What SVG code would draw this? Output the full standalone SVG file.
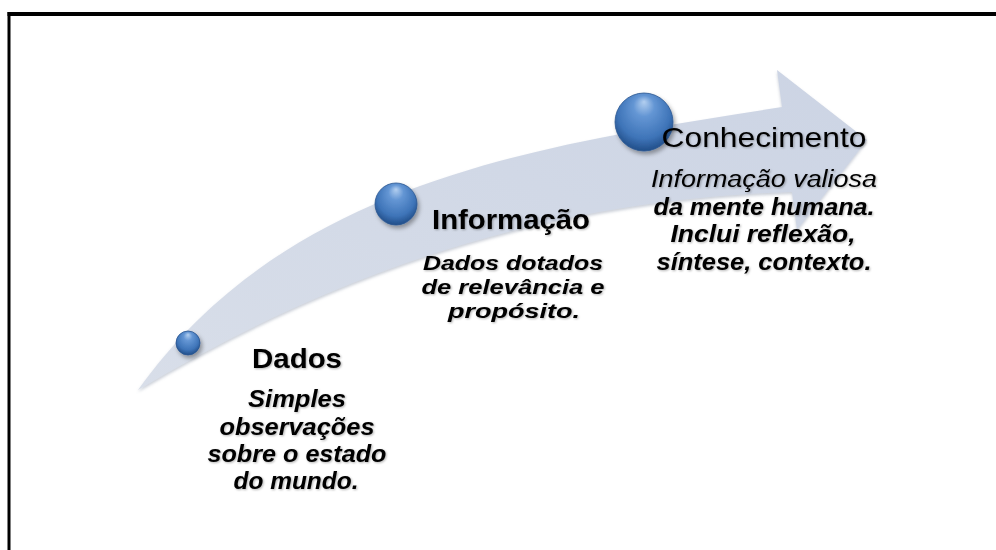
<svg xmlns="http://www.w3.org/2000/svg" width="996" height="550" viewBox="0 0 996 550">
  <defs>
    <linearGradient id="arrowFill" x1="0" y1="1" x2="1" y2="0">
      <stop offset="0" stop-color="#d8dee9"/>
      <stop offset="1" stop-color="#ccd4e4"/>
    </linearGradient>
    <radialGradient id="ball" cx="50%" cy="40%" r="60%" fx="50%" fy="15%">
      <stop offset="0" stop-color="#b3cff0"/>
      <stop offset="0.3" stop-color="#6496d4"/>
      <stop offset="0.75" stop-color="#3e74b8"/>
      <stop offset="1" stop-color="#214e89"/>
    </radialGradient>
    <filter id="ballShadow" x="-30%" y="-30%" width="170%" height="170%">
      <feDropShadow dx="2" dy="3" stdDeviation="2" flood-color="#000" flood-opacity="0.35"/>
    </filter>
    <filter id="txtShadow" x="-5%" y="-20%" width="110%" height="150%">
      <feDropShadow dx="1" dy="1" stdDeviation="0.8" flood-color="#000" flood-opacity="0.3"/>
    </filter>
    <filter id="arrowShadow" x="-5%" y="-5%" width="110%" height="115%">
      <feDropShadow dx="0" dy="2" stdDeviation="1.5" flood-color="#8a94a8" flood-opacity="0.45"/>
    </filter>
  </defs>
  <style>
    .title { font-family: "Liberation Sans", Arial, sans-serif; font-size: 28px; font-weight: bold; fill: #000; text-anchor: middle; }
    .titleR { font-family: "Liberation Sans", Arial, sans-serif; font-size: 28px; font-weight: normal; fill: #000; text-anchor: middle; }
    .body { font-family: "Liberation Sans", Arial, sans-serif; font-size: 23px; font-weight: bold; font-style: italic; fill: #000; text-anchor: middle; }
    .bodyS { font-family: "Liberation Sans", Arial, sans-serif; font-size: 21px; font-weight: bold; font-style: italic; fill: #000; text-anchor: middle; }
    .bodyR { font-family: "Liberation Sans", Arial, sans-serif; font-size: 23px; font-weight: normal; font-style: italic; fill: #000; text-anchor: middle; }
    .sphere { fill: url(#ball); stroke: #2a5590; stroke-width: 0.8; filter: url(#ballShadow); }
    .frame { stroke: #000; fill: none; }
  </style>

  <rect x="0" y="0" width="996" height="550" fill="#ffffff"/>

  <g id="frame">
    <line class="frame" x1="7.5" y1="14" x2="996" y2="14" stroke-width="4"/>
    <line class="frame" x1="9" y1="12" x2="9" y2="550" stroke-width="3"/>
  </g>

  <g id="connectors">
    <path id="arrow" d="M138,390 C288,180 540,145 782,107 L777,70 L867,140 L797,230 L792,192 C540,200 330,275 138,390 Z" fill="url(#arrowFill)" filter="url(#arrowShadow)"/>
  </g>

  <g id="node-dados">
    <circle class="sphere" cx="188" cy="343" r="12"/>
    <g filter="url(#txtShadow)">
      <text class="title" x="297" y="368" textLength="90" lengthAdjust="spacingAndGlyphs">Dados</text>
      <text class="body" x="297" y="407" textLength="98" lengthAdjust="spacingAndGlyphs">Simples</text>
      <text class="body" x="297" y="435" textLength="155" lengthAdjust="spacingAndGlyphs">observações</text>
      <text class="body" x="297" y="462" textLength="179" lengthAdjust="spacingAndGlyphs">sobre o estado</text>
      <text class="body" x="296" y="489" textLength="125" lengthAdjust="spacingAndGlyphs">do mundo.</text>
    </g>
  </g>

  <g id="node-informacao">
    <circle class="sphere" cx="396" cy="204" r="21"/>
    <g filter="url(#txtShadow)">
      <text class="title" x="511" y="229" textLength="158" lengthAdjust="spacingAndGlyphs">Informação</text>
      <text class="bodyS" x="513" y="270" textLength="180" lengthAdjust="spacingAndGlyphs">Dados dotados</text>
      <text class="bodyS" x="513" y="294" textLength="183" lengthAdjust="spacingAndGlyphs">de relevância e</text>
      <text class="bodyS" x="514" y="318" textLength="132" lengthAdjust="spacingAndGlyphs">propósito.</text>
    </g>
  </g>

  <g id="node-conhecimento">
    <circle class="sphere" cx="644" cy="122" r="29"/>
    <g filter="url(#txtShadow)">
      <text class="titleR" x="764" y="147" textLength="205" lengthAdjust="spacingAndGlyphs">Conhecimento</text>
      <text class="bodyR" x="764" y="187" textLength="226" lengthAdjust="spacingAndGlyphs">Informação valiosa</text>
      <text class="body" x="764" y="215" textLength="221" lengthAdjust="spacingAndGlyphs">da mente humana.</text>
      <text class="body" x="763" y="242" textLength="185" lengthAdjust="spacingAndGlyphs">Inclui reflexão,</text>
      <text class="body" x="764" y="270" textLength="215" lengthAdjust="spacingAndGlyphs">síntese, contexto.</text>
    </g>
  </g>
</svg>
